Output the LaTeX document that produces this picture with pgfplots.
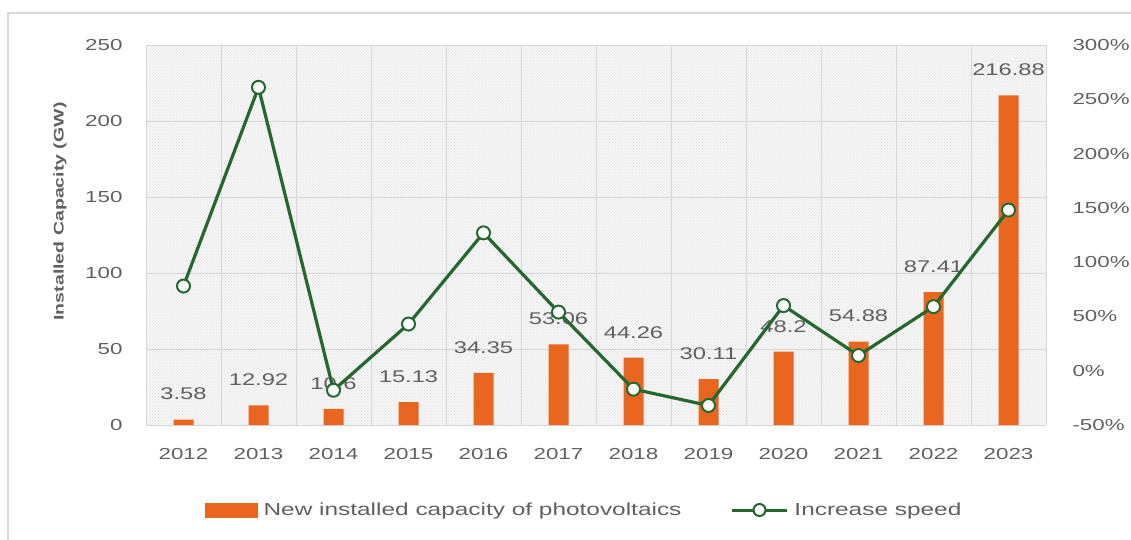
\documentclass[border=0pt]{standalone}
\usepackage{pgfplots}
\pgfplotsset{compat=1.18}
\usepackage{pgfplotstable}
\usepackage{fontspec}
\setmainfont{Liberation Sans}[FakeStretch=1.4]
\usetikzlibrary{patterns}

\definecolor{barorange}{RGB}{233,102,32}
\definecolor{lineg}{RGB}{36,104,46}
\definecolor{txtgray}{RGB}{96,96,96}
\definecolor{gridgray}{RGB}{214,214,214}
\definecolor{bggray}{RGB}{245,245,245}

% new PV capacity (GW) and year-on-year growth (%)
\pgfplotstableread{
x year cap rate
0 2012 3.58 78
1 2013 12.92 261
2 2014 10.6 -18
3 2015 15.13 43
4 2016 34.35 127
5 2017 53.06 54
6 2018 44.26 -17
7 2019 30.11 -32
8 2020 48.2 60
9 2021 54.88 14
10 2022 87.41 59
11 2023 216.88 148
}\pvdata

\pgfplotsset{
  common/.style={
    at={(146bp,-425bp)}, anchor=south west,
    scale only axis, width=900bp, height=380bp,
    xmin=-0.5, xmax=11.5,
    major tick length=0pt, minor tick length=0pt,
    /pgf/number format/assume math mode=true,
    tick label style={font=\fontsize{16}{19}\selectfont, text=txtgray},
  },
}

\begin{document}
\begin{tikzpicture}
\useasboundingbox (0bp,0bp) rectangle (1131bp,-540bp);
\draw[gray!30, line width=1.5bp] (8bp,-540bp) -- (8bp,-13bp) -- (1131bp,-13bp);

\begin{axis}[
  common,
  ymin=0, ymax=250,
  ytick={0,50,...,250},
  xtick={0,...,11},
  xticklabels={2012,2013,2014,2015,2016,2017,2018,2019,2020,2021,2022,2023},
  minor xtick={-0.5,0.5,...,11.5},
  xminorgrids, ymajorgrids,
  minor x grid style={gridgray, line width=0.8bp},
  major grid style={gridgray, line width=0.8bp},
  axis line style={draw=none},
  axis background/.style={fill=bggray, postaction={pattern=crosshatch dots, pattern color=gray!22}},
  xticklabel style={yshift=-20bp},
  yticklabel style={xshift=-20bp},
  ylabel={\bfseries Installed Capacity (GW)},
  every axis y label/.style={at={(axis description cs:-0.0956,0.562)}, rotate=90, anchor=center,
    font=\fontsize{14}{17}\selectfont, text=txtgray},
]
\addplot[ybar, bar width=20bp, fill=barorange, draw=none,
  nodes near coords,
  every node near coord/.append style={yshift=16bp, font=\fontsize{17}{20}\selectfont, text=txtgray}]
  table[x=x, y=cap]{\pvdata};
\end{axis}

\begin{axis}[
  common,
  ymin=-50, ymax=300,
  ytick={-50,0,...,300},
  yticklabel={\pgfmathprintnumber{\tick}\%},
  axis x line=none,
  axis y line*=right,
  y axis line style={draw=none},
  yticklabel style={xshift=23bp, anchor=west},
  legend style={at={(0.487,-0.2237)}, anchor=center, draw=none, fill=none,
    legend columns=2, font=\fontsize{17.5}{20}\selectfont, text=txtgray,
    /tikz/every odd column/.append style={column sep=4bp},
    /tikz/every even column/.append style={column sep=47bp}},
]
\addlegendimage{legend image code/.code={\fill[barorange] (0bp,-7bp) rectangle (52bp,7bp);}}
\addlegendentry{New installed capacity of photovoltaics}
\addplot[lineg, line width=3.2bp, mark=*, mark size=6.5bp,
  mark options={fill=white, draw=lineg, line width=2bp},
  legend image code/.code={\draw[lineg, line width=3bp] (0bp,0bp) -- (55bp,0bp);
    \draw[lineg, fill=white, line width=2bp] (27.5bp,0bp) circle (6bp);}]
  table[x=x, y=rate]{\pvdata};
\addlegendentry{Increase speed}
\end{axis}
\end{tikzpicture}
\end{document}
